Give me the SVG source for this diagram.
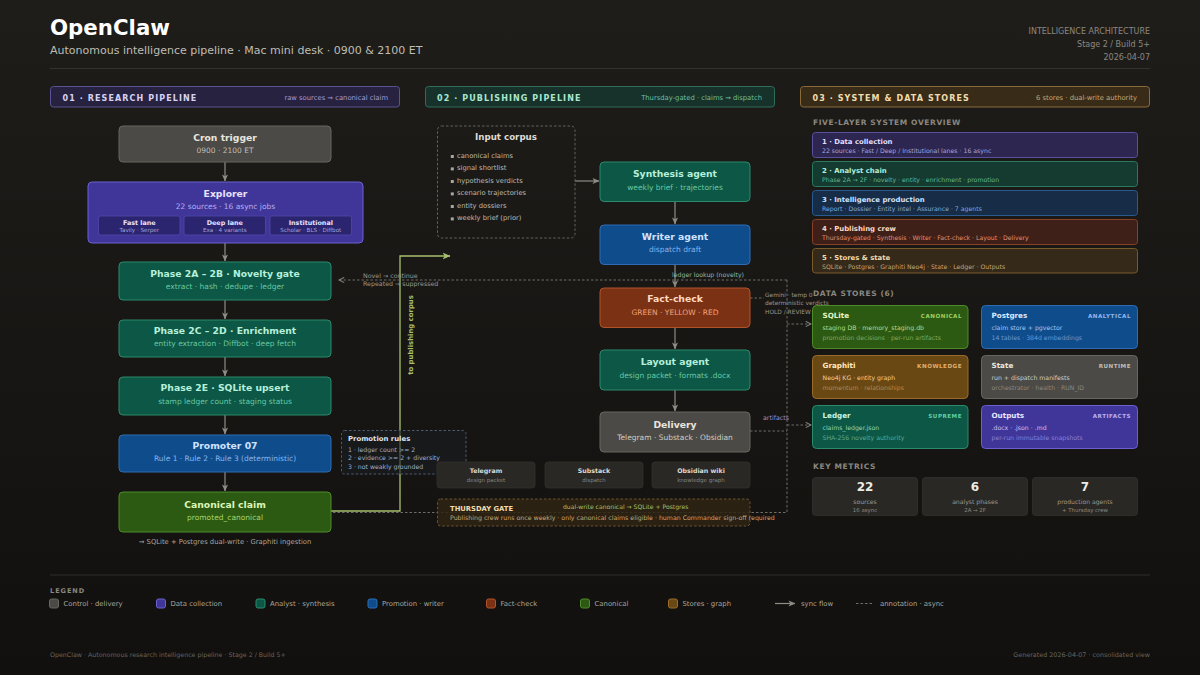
<svg xmlns="http://www.w3.org/2000/svg" width="1200" height="675" viewBox="0 0 1200 675">
<defs>
<linearGradient id="bg" x1="0" y1="0" x2="0" y2="1">
<stop offset="0" stop-color="#1f1d1a"/>
<stop offset="1" stop-color="#11100e"/>
</linearGradient>
<marker id="ah" viewBox="0 0 8 8" refX="7.5" refY="4" markerWidth="7" markerHeight="7" orient="auto" markerUnits="userSpaceOnUse"><path d="M0,0.5 L8,4 L0,7.5 L2.2,4 z" fill="#8f8d86"/></marker>
<marker id="ahg" viewBox="0 0 8 8" refX="7.5" refY="4" markerWidth="8" markerHeight="8" orient="auto" markerUnits="userSpaceOnUse"><path d="M0,0.5 L8,4 L0,7.5 L2.2,4 z" fill="#a6c06c"/></marker>
<marker id="ahd" viewBox="0 0 8 8" refX="7" refY="4" markerWidth="7" markerHeight="7" orient="auto" markerUnits="userSpaceOnUse"><path d="M1,1 L7,4 L1,7" fill="none" stroke="#8a8882" stroke-width="1.2"/></marker>
<style>
text{font-family:'DejaVu Sans','Liberation Sans',sans-serif}
.nt{font-weight:700;font-size:9.25px;text-anchor:middle}
.ns{font-size:7.5px;text-anchor:middle}
.flow{fill:none;stroke:#8f8d86;stroke-width:1.2;marker-end:url(#ah)}
.dash{fill:none;stroke:#6e6c66;stroke-width:1;stroke-dasharray:2.5 2}
.ann{font-size:6.3px;fill:#9a9890}
.gem{font-size:5.9px;fill:#9a9890}
.colh{font-weight:700;font-size:8px;letter-spacing:1.1px}
.colr{font-size:6.8px;text-anchor:end}
.sec{font-weight:700;font-size:7.5px;letter-spacing:0.6px;fill:#8a8880}
.lt{font-weight:700;font-size:6.9px}
.ls{font-size:6.2px}
.st{font-weight:700;font-size:7.2px}
.tag{font-weight:700;font-size:5.6px;letter-spacing:0.5px;text-anchor:end}
.sl{font-size:6.2px}
.lg{font-size:6.9px;fill:#a8a69e}
.lane{fill:#2b256f;stroke:#5147a8;stroke-width:0.8}
.lnt{font-weight:700;font-size:6.4px;fill:#e6e2ff;text-anchor:middle}
.lns{font-size:5.6px;fill:#a9a3d9;text-anchor:middle}
.teal{fill:#0c5745;stroke:#2b8a6c;stroke-width:1}
.tealt{fill:#b6f0da}
.teals{fill:#68c7a4}
.gray{fill:#4b4a46;stroke:#67665f;stroke-width:1}
.blue{fill:#0f4c8c;stroke:#2f6cb4;stroke-width:1}
.sub{fill:#2a2824;stroke:#33312d;stroke-width:0.8}
.mt{font-weight:700;font-size:12px;fill:#ecebe6;text-anchor:middle}
.ml{font-size:6.1px;fill:#9a9890;text-anchor:middle}
.ms{font-size:5.4px;fill:#8a8880;text-anchor:middle}
.ci{font-size:6.75px;fill:#bdbab2}
</style>
</defs>
<rect x="0" y="0" width="1200" height="675" fill="url(#bg)"/>

<g id="header">
<text x="50" y="35" font-size="21.3" font-weight="700" fill="#ffffff">OpenClaw</text>
<text x="50" y="54" font-size="11" fill="#bebcb4">Autonomous intelligence pipeline · Mac mini desk · 0900 &amp; 2100 ET</text>
<text x="1150" y="33.5" font-size="8" fill="#8a8880" text-anchor="end">INTELLIGENCE ARCHITECTURE</text>
<text x="1150" y="46.5" font-size="8" fill="#8a8880" text-anchor="end">Stage 2 / Build 5+</text>
<text x="1150" y="59.5" font-size="8" fill="#8a8880" text-anchor="end">2026-04-07</text>
<line x1="50" y1="68.5" x2="1150" y2="68.5" stroke="#34322e" stroke-width="1"/>
</g>

<g id="column-headers">
<rect x="50.5" y="86.5" width="349" height="20.5" rx="3" fill="#27223f" stroke="#5b5294"/>
<text x="62.5" y="100.5" class="colh" fill="#d6d2f5">01 · RESEARCH PIPELINE</text>
<text x="388" y="100" class="colr" fill="#a29cd6">raw sources → canonical claim</text>
<rect x="425.5" y="86.5" width="349" height="20.5" rx="3" fill="#17322b" stroke="#2e6d58"/>
<text x="437" y="100.5" class="colh" fill="#a9e6cf">02 · PUBLISHING PIPELINE</text>
<text x="762" y="100" class="colr" fill="#6fbf9f">Thursday-gated · claims → dispatch</text>
<rect x="800.5" y="86.5" width="349" height="20.5" rx="3" fill="#382c19" stroke="#8a6a3a"/>
<text x="812.5" y="100.5" class="colh" fill="#f2dcae">03 · SYSTEM &amp; DATA STORES</text>
<text x="1137" y="100" class="colr" fill="#c9a570">6 stores · dual-write authority</text>
</g>

<g id="connectors">
<line x1="225" y1="162" x2="225" y2="181" class="flow"/>
<line x1="225" y1="243" x2="225" y2="261" class="flow"/>
<line x1="225" y1="300" x2="225" y2="319" class="flow"/>
<line x1="225" y1="357" x2="225" y2="376" class="flow"/>
<line x1="225" y1="415" x2="225" y2="434" class="flow"/>
<line x1="225" y1="472" x2="225" y2="491" class="flow"/>
<line x1="575" y1="181" x2="599" y2="181" class="flow"/>
<line x1="675" y1="201" x2="675" y2="224" class="flow"/>
<line x1="675" y1="264" x2="675" y2="287" class="flow"/>
<line x1="675" y1="327" x2="675" y2="349" class="flow"/>
<line x1="675" y1="390" x2="675" y2="411" class="flow"/>
<path d="M331,511 H400 V256 H450" fill="none" stroke="#a6c06c" stroke-width="1.3" marker-end="url(#ahg)"/>
<text transform="translate(412.5,335) rotate(-90)" font-size="6.9" font-weight="700" fill="#a6c06c" text-anchor="middle">to publishing corpus</text>
<path d="M787,280 H339" class="dash" marker-end="url(#ahd)"/>
<path d="M675,280 V286" class="dash"/>
<path d="M787,280 V512.5 H331" class="dash"/>
<path d="M750,298 H764" class="dash"/>
<path d="M787,324 H811" class="dash" marker-end="url(#ahd)"/>
<path d="M787,425 H811" class="dash" marker-end="url(#ahd)"/>
<path d="M750,431 H787" class="dash"/>
<text x="363" y="277.5" class="ann">Novel → continue</text>
<text x="363" y="286.2" class="ann">Repeated → suppressed</text>
<text x="672" y="277" font-size="6.2" fill="#8fb8a8">ledger lookup (novelty)</text>
<text x="765" y="296.5" class="gem">Gemini · temp 0</text>
<text x="765" y="304.5" class="gem">deterministic verdicts</text>
<text x="765" y="314" class="gem">HOLD / REVIEW</text>
<text x="763" y="420" font-size="6.3" fill="#9a90d0">artifacts</text>
</g>

<g id="cron">
<rect x="119" y="126" width="212" height="36" rx="4" class="gray"/>
<text x="225" y="140.7" class="nt" fill="#e8e6df">Cron trigger</text>
<text x="225" y="153" class="ns" fill="#c0bdb5">0900 · 2100 ET</text>
</g>

<g id="explorer">
<rect x="88" y="182" width="275" height="61" rx="4" fill="#40369a" stroke="#6b60d0"/>
<text x="225.5" y="197" class="nt" fill="#e6e2ff">Explorer</text>
<text x="225.5" y="208.7" class="ns" fill="#b4adf0">22 sources · 16 async jobs</text>
<rect x="98.5" y="216" width="81.5" height="19" rx="2" class="lane"/>
<text x="139.3" y="225" class="lnt">Fast lane</text>
<text x="139.3" y="231.8" class="lns">Tavily · Serper</text>
<rect x="184" y="216" width="81.5" height="19" rx="2" class="lane"/>
<text x="224.8" y="225" class="lnt">Deep lane</text>
<text x="224.8" y="231.8" class="lns">Exa · 4 variants</text>
<rect x="270" y="216" width="81.5" height="19" rx="2" class="lane"/>
<text x="310.8" y="225" class="lnt">Institutional</text>
<text x="310.8" y="231.8" class="lns">Scholar · BLS · Diffbot</text>
</g>

<g id="phase-2a">
<rect x="119" y="262" width="212" height="38" rx="4" class="teal"/>
<text x="225" y="276.7" class="nt tealt">Phase 2A – 2B · Novelty gate</text>
<text x="225" y="288.7" class="ns teals">extract · hash · dedupe · ledger</text>
</g>

<g id="phase-2c">
<rect x="119" y="320" width="212" height="37" rx="4" class="teal"/>
<text x="225" y="333.7" class="nt tealt">Phase 2C – 2D · Enrichment</text>
<text x="225" y="346" class="ns teals">entity extraction · Diffbot · deep fetch</text>
</g>

<g id="phase-2e">
<rect x="119" y="377" width="212" height="38" rx="4" class="teal"/>
<text x="225" y="391" class="nt tealt">Phase 2E · SQLite upsert</text>
<text x="225" y="403.5" class="ns teals">stamp ledger count · staging status</text>
</g>

<g id="promoter">
<rect x="119" y="435" width="212" height="37" rx="4" class="blue"/>
<text x="225" y="449" class="nt" fill="#d0e3ff">Promoter 07</text>
<text x="225" y="461.4" class="ns" fill="#88b4ea">Rule 1 · Rule 2 · Rule 3 (deterministic)</text>
</g>

<g id="canonical">
<rect x="119" y="492" width="212" height="40" rx="4" fill="#2d5a12" stroke="#4f8a2a"/>
<text x="225" y="507.7" class="nt" fill="#dcf5b8">Canonical claim</text>
<text x="225" y="520" class="ns" fill="#a6d46c">promoted_canonical</text>
<text x="225" y="543.7" font-size="6.8" fill="#a8a69e" text-anchor="middle">→ SQLite + Postgres dual-write · Graphiti ingestion</text>
</g>

<g id="promotion-rules">
<rect x="341.5" y="430.5" width="124.5" height="43.5" rx="3" fill="#1a1c22" fill-opacity="0.6" stroke="#4f5a72" stroke-dasharray="2.5 2"/>
<text x="348" y="440.7" font-size="6.9" font-weight="700" fill="#dfe3ee">Promotion rules</text>
<text x="348" y="451.5" font-size="6.2" fill="#9fb0cc">1 · ledger count &gt;= 2</text>
<text x="348" y="459.9" font-size="6.2" fill="#9fb0cc">2 · evidence &gt;= 2 + diversity</text>
<text x="348" y="468.5" font-size="6.2" fill="#9fb0cc">3 · not weakly grounded</text>
</g>

<g id="input-corpus">
<rect x="437.5" y="126" width="137.5" height="112" rx="4" fill="none" stroke="#64625c" stroke-dasharray="2.5 2"/>
<text x="506" y="140" font-size="8.7" font-weight="700" fill="#dcdad3" text-anchor="middle">Input corpus</text>
<rect x="450.8" y="155" width="3" height="3" fill="#a8a69e"/>
<text x="457" y="157.6" class="ci">canonical claims</text>
<rect x="450.8" y="167.4" width="3" height="3" fill="#a8a69e"/>
<text x="457" y="170" class="ci">signal shortlist</text>
<rect x="450.8" y="180" width="3" height="3" fill="#a8a69e"/>
<text x="457" y="182.6" class="ci">hypothesis verdicts</text>
<rect x="450.8" y="192.4" width="3" height="3" fill="#a8a69e"/>
<text x="457" y="195" class="ci">scenario trajectories</text>
<rect x="450.8" y="205" width="3" height="3" fill="#a8a69e"/>
<text x="457" y="207.6" class="ci">entity dossiers</text>
<rect x="450.8" y="217.4" width="3" height="3" fill="#a8a69e"/>
<text x="457" y="220" class="ci">weekly brief (prior)</text>
</g>

<g id="synthesis">
<rect x="600" y="162" width="150" height="39.5" rx="4" class="teal"/>
<text x="675" y="177.4" class="nt tealt">Synthesis agent</text>
<text x="675" y="190" class="ns teals">weekly brief · trajectories</text>
</g>

<g id="writer">
<rect x="600" y="225" width="150" height="39.5" rx="4" class="blue"/>
<text x="675" y="240" class="nt" fill="#d0e3ff">Writer agent</text>
<text x="675" y="252.4" class="ns" fill="#88b4ea">dispatch draft</text>
</g>

<g id="fact-check">
<rect x="600" y="288" width="150" height="39.5" rx="4" fill="#7b3214" stroke="#b25228"/>
<text x="675" y="302.4" class="nt" fill="#ffd9c2">Fact-check</text>
<text x="675" y="315" class="ns" fill="#f2a27a">GREEN · YELLOW · RED</text>
</g>

<g id="layout">
<rect x="600" y="350" width="150" height="40" rx="4" class="teal"/>
<text x="675" y="365" class="nt tealt">Layout agent</text>
<text x="675" y="377.7" class="ns teals">design packet · formats .docx</text>
</g>

<g id="delivery">
<rect x="600" y="412" width="150" height="40" rx="4" class="gray"/>
<text x="675" y="427.7" class="nt" fill="#e8e6df">Delivery</text>
<text x="675" y="439.7" class="ns" fill="#cfcdc5">Telegram · Substack · Obsidian</text>
</g>

<g id="telegram">
<rect x="437" y="462" width="98" height="26" rx="3" class="sub"/>
<text x="486" y="473" font-size="6.3" font-weight="700" fill="#dcdad3" text-anchor="middle">Telegram</text>
<text x="486" y="482" font-size="5.5" fill="#86847d" text-anchor="middle">design packet</text>
</g>
<g id="substack">
<rect x="545" y="462" width="98" height="26" rx="3" class="sub"/>
<text x="594" y="473" font-size="6.3" font-weight="700" fill="#dcdad3" text-anchor="middle">Substack</text>
<text x="594" y="482" font-size="5.5" fill="#86847d" text-anchor="middle">dispatch</text>
</g>
<g id="obsidian">
<rect x="652" y="462" width="98" height="26" rx="3" class="sub"/>
<text x="701" y="473" font-size="6.3" font-weight="700" fill="#dcdad3" text-anchor="middle">Obsidian wiki</text>
<text x="701" y="482" font-size="5.5" fill="#86847d" text-anchor="middle">knowledge graph</text>
</g>

<g id="thursday-gate">
<rect x="437.5" y="499" width="312.5" height="27" rx="3" fill="#2e2414" fill-opacity="0.85" stroke="#6a5530" stroke-dasharray="2.5 2"/>
<text x="450" y="511" font-size="6.8" font-weight="700" fill="#f2dcae">THURSDAY GATE</text>
<text x="450" y="520.2" font-size="6.25" fill="#c9a570">Publishing crew runs once weekly · only canonical claims eligible · human Commander sign-off required</text>
<text x="563" y="509" font-size="6.1" fill="#a6c06c">dual-write canonical → SQLite + Postgres</text>
</g>

<g id="five-layer">
<text x="813" y="125" class="sec">FIVE-LAYER SYSTEM OVERVIEW</text>
<rect x="812.5" y="132.5" width="325" height="25" rx="3" fill="#2c2650" stroke="#5a50a0"/>
<text x="822" y="144" class="lt" fill="#e2deff">1 · Data collection</text>
<text x="822" y="152.5" class="ls" fill="#a9a3d9">22 sources · Fast / Deep / Institutional lanes · 16 async</text>
<rect x="812.5" y="161.5" width="325" height="25" rx="3" fill="#153a2f" stroke="#2a7a5e"/>
<text x="822" y="173" class="lt" fill="#b6f0da">2 · Analyst chain</text>
<text x="822" y="181.5" class="ls" fill="#5fb894">Phase 2A → 2F · novelty · entity · enrichment · promotion</text>
<rect x="812.5" y="190.5" width="325" height="25" rx="3" fill="#172c47" stroke="#2a5a90"/>
<text x="822" y="202" class="lt" fill="#d0e3ff">3 · Intelligence production</text>
<text x="822" y="210.5" class="ls" fill="#80a9d8">Report · Dossier · Entity intel · Assurance · 7 agents</text>
<rect x="812.5" y="219.5" width="325" height="25" rx="3" fill="#3e2018" stroke="#8a4028"/>
<text x="822" y="231" class="lt" fill="#ffd9c2">4 · Publishing crew</text>
<text x="822" y="239.5" class="ls" fill="#e09070">Thursday-gated · Synthesis · Writer · Fact-check · Layout · Delivery</text>
<rect x="812.5" y="248.5" width="325" height="24.5" rx="3" fill="#35291a" stroke="#7a5a2a"/>
<text x="822" y="260" class="lt" fill="#f2dcae">5 · Stores &amp; state</text>
<text x="822" y="268.5" class="ls" fill="#c9a570">SQLite · Postgres · Graphiti Neo4j · State · Ledger · Outputs</text>
</g>

<g id="data-stores-title">
<text x="813" y="296" class="sec">DATA STORES (6)</text>
</g>

<g id="sqlite">
<rect x="812.5" y="305.5" width="155.5" height="43" rx="4" fill="#2d5a12" stroke="#4f8a2a"/>
<text x="822.5" y="318" class="st" fill="#e2f5c4">SQLite</text>
<text x="962" y="318" class="tag" fill="#9fd060">CANONICAL</text>
<text x="822.5" y="329.5" class="sl" fill="#b8dc90">staging DB · memory_staging.db</text>
<text x="822.5" y="339.5" class="sl" fill="#7fa860">promotion decisions · per-run artifacts</text>
</g>
<g id="postgres">
<rect x="981.5" y="305.5" width="156" height="43" rx="4" fill="#0f4c8c" stroke="#2f6cb4"/>
<text x="991.5" y="318" class="st" fill="#d8e8ff">Postgres</text>
<text x="1131" y="318" class="tag" fill="#8fb8f0">ANALYTICAL</text>
<text x="991.5" y="329.5" class="sl" fill="#a8c8f0">claim store + pgvector</text>
<text x="991.5" y="339.5" class="sl" fill="#6a98d0">14 tables · 384d embeddings</text>
</g>
<g id="graphiti">
<rect x="812.5" y="355.5" width="155.5" height="43" rx="4" fill="#6a4814" stroke="#9a6a2a"/>
<text x="822.5" y="368" class="st" fill="#ffe8c0">Graphiti</text>
<text x="962" y="368" class="tag" fill="#e0b070">KNOWLEDGE</text>
<text x="822.5" y="379.5" class="sl" fill="#f0d0a0">Neo4j KG · entity graph</text>
<text x="822.5" y="389.5" class="sl" fill="#b08850">momentum · relationships</text>
</g>
<g id="state">
<rect x="981.5" y="355.5" width="156" height="43" rx="4" class="gray"/>
<text x="991.5" y="368" class="st" fill="#e8e6df">State</text>
<text x="1131" y="368" class="tag" fill="#c0beb6">RUNTIME</text>
<text x="991.5" y="379.5" class="sl" fill="#d0cec6">run + dispatch manifests</text>
<text x="991.5" y="389.5" class="sl" fill="#8a8882">orchestrator · health · RUN_ID</text>
</g>
<g id="ledger">
<rect x="812.5" y="405.5" width="155.5" height="43" rx="4" class="teal"/>
<text x="822.5" y="418" class="st" fill="#c8f5e4">Ledger</text>
<text x="962" y="418" class="tag" fill="#5fd0a8">SUPREME</text>
<text x="822.5" y="429.5" class="sl" fill="#8fd8bc">claims_ledger.json</text>
<text x="822.5" y="439.5" class="sl" fill="#5fa890">SHA-256 novelty authority</text>
</g>
<g id="outputs">
<rect x="981.5" y="405.5" width="156" height="43" rx="4" fill="#40369a" stroke="#6b60d0"/>
<text x="991.5" y="418" class="st" fill="#e8e4ff">Outputs</text>
<text x="1131" y="418" class="tag" fill="#b8b0f0">ARTIFACTS</text>
<text x="991.5" y="429.5" class="sl" fill="#c8c0f5">.docx · .json · .md</text>
<text x="991.5" y="439.5" class="sl" fill="#8a80d0">per-run immutable snapshots</text>
</g>

<g id="key-metrics">
<text x="813" y="469" class="sec">KEY METRICS</text>
<rect x="812.5" y="477.5" width="105" height="38" rx="3" class="sub"/>
<text x="865" y="491" class="mt">22</text>
<text x="865" y="504" class="ml">sources</text>
<text x="865" y="511.5" class="ms">16 async</text>
<rect x="922.5" y="477.5" width="105" height="38" rx="3" class="sub"/>
<text x="975" y="491" class="mt">6</text>
<text x="975" y="504" class="ml">analyst phases</text>
<text x="975" y="511.5" class="ms">2A → 2F</text>
<rect x="1032.5" y="477.5" width="105" height="38" rx="3" class="sub"/>
<text x="1085" y="491" class="mt">7</text>
<text x="1085" y="504" class="ml">production agents</text>
<text x="1085" y="511.5" class="ms">+ Thursday crew</text>
</g>

<g id="legend">
<line x1="50" y1="575" x2="1150" y2="575" stroke="#2e2c28" stroke-width="1"/>
<text x="50" y="593" font-size="6.5" font-weight="700" letter-spacing="1" fill="#8a8880">LEGEND</text>
<rect x="49.5" y="599" width="9" height="9" rx="2" fill="#4b4a46" stroke="#67665f"/>
<text x="63.5" y="605.6" class="lg">Control · delivery</text>
<rect x="156.5" y="599" width="9" height="9" rx="2" fill="#40369a" stroke="#6b60d0"/>
<text x="170.5" y="605.6" class="lg">Data collection</text>
<rect x="256" y="599" width="9" height="9" rx="2" fill="#0c5745" stroke="#2b8a6c"/>
<text x="270" y="605.6" class="lg">Analyst · synthesis</text>
<rect x="368" y="599" width="9" height="9" rx="2" fill="#0f4c8c" stroke="#2f6cb4"/>
<text x="382" y="605.6" class="lg">Promotion · writer</text>
<rect x="486.5" y="599" width="9" height="9" rx="2" fill="#7b3214" stroke="#b25228"/>
<text x="500.5" y="605.6" class="lg">Fact-check</text>
<rect x="580.5" y="599" width="9" height="9" rx="2" fill="#2d5a12" stroke="#4f8a2a"/>
<text x="594.5" y="605.6" class="lg">Canonical</text>
<rect x="668.5" y="599" width="9" height="9" rx="2" fill="#6a4814" stroke="#9a6a2a"/>
<text x="682.5" y="605.6" class="lg">Stores · graph</text>
<line x1="775" y1="603.5" x2="795" y2="603.5" class="flow"/>
<text x="801" y="605.6" class="lg">sync flow</text>
<line x1="856" y1="603.5" x2="874" y2="603.5" class="dash"/>
<text x="880" y="605.6" class="lg">annotation · async</text>
</g>

<g id="footer">
<text x="50" y="656.5" font-size="6.3" fill="#66645e">OpenClaw · Autonomous research intelligence pipeline · Stage 2 / Build 5+</text>
<text x="1150" y="656.5" font-size="6.4" fill="#66645e" text-anchor="end">Generated 2026-04-07 · consolidated view</text>
</g>
</svg>
